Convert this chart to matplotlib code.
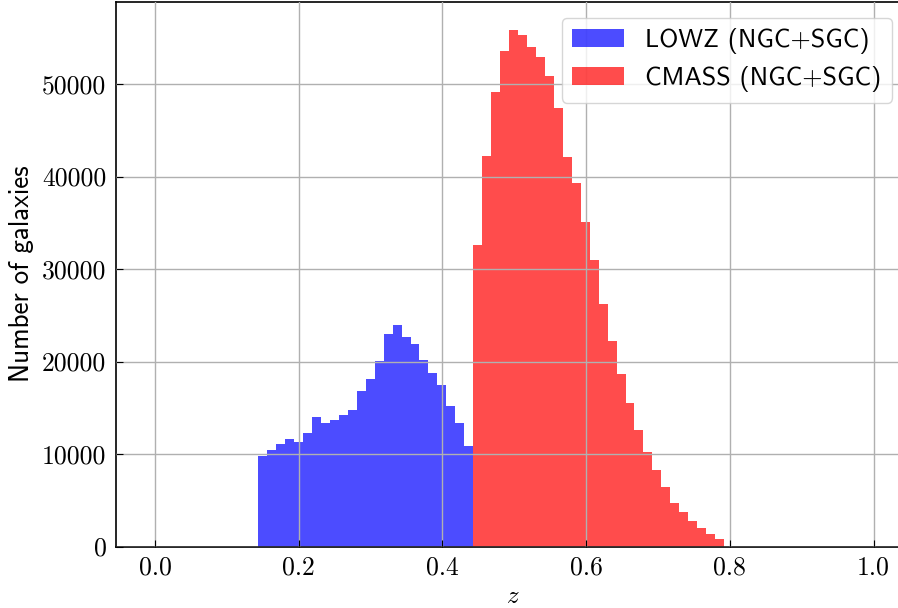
import numpy as np
import matplotlib
matplotlib.use("Agg")
import matplotlib.pyplot as plt

# ---- data ----
z_min, z_max, n_bins = 0.1437, 0.792, 52
lowz_counts = [9770, 10390, 11110, 11650, 11260, 12300, 14030, 13350, 13710, 14250,
               14750, 16850, 18150, 20020, 22980, 23990, 22620, 21940, 20130, 18760,
               17460, 15180, 13310, 10900]
cmass_counts = [32580, 42240, 49170, 53610, 55840, 55340, 53970, 52960, 50870, 47440,
                42130, 39320, 35060, 30950, 26260, 22190, 18690, 15550, 12630, 10250,
                8230, 6420, 4730, 3710, 2710, 2020, 1300, 760]
labels = ["LOWZ (NGC+SGC)", "CMASS (NGC+SGC)"]
x_ticks = [0.0, 0.2, 0.4, 0.6, 0.8, 1.0]
y_ticks = [0, 10000, 20000, 30000, 40000, 50000]

edges = np.linspace(z_min, z_max, n_bins + 1)
n_low = len(lowz_counts)
lowz_edges = edges[:n_low + 1]
cmass_edges = edges[n_low:]

plt.rcParams['mathtext.fontset'] = 'cm'
plt.rcParams['axes.unicode_minus'] = False

W, H = 898, 608
fig = plt.figure(figsize=(W / 100, H / 100), dpi=100)

# axes in pixel terms: left spine at 116, y=0 at 546.5, top at 1.7
x0_pix, x1_pix = 155.0, 873.5   # positions of z=0 and z=1
xlo, xhi = -0.054, 1.05
left_pix = x0_pix + xlo * (x1_pix - x0_pix)
right_pix = x0_pix + xhi * (x1_pix - x0_pix)
bottom_pix, top_pix = 546.5, 1.7
ax = fig.add_axes([left_pix / W, 1 - bottom_pix / H,
                   (right_pix - left_pix) / W, (bottom_pix - top_pix) / H])

ax.stairs(lowz_counts, lowz_edges, fill=True, color='blue', alpha=0.7,
          label=labels[0], linewidth=0)
ax.stairs(cmass_counts, cmass_edges, fill=True, color='red', alpha=0.7,
          label=labels[1], linewidth=0)

ax.set_xlim(xlo, xhi)
ax.set_ylim(0, 58900)
ax.set_xticks(x_ticks)
ax.set_yticks(y_ticks)
ax.set_xticklabels([f"{v:.1f}" for v in x_ticks], fontfamily='cmr10', fontsize=18.5)
ax.set_yticklabels([f"{v:d}" for v in y_ticks], fontfamily='cmr10', fontsize=18.5)
ax.tick_params(direction='in', length=5, pad=7)
ax.grid(True, color='#b0b0b0', linewidth=1.0)
ax.set_axisbelow(False)
for s in ax.spines.values():
    s.set_linewidth(1.2)

ax.set_xlabel('$z$', fontsize=18, labelpad=3)
ax.set_ylabel('Number of galaxies', fontfamily='cmss10', fontsize=19.5, labelpad=6)

leg = ax.legend(loc='upper right', bbox_to_anchor=(892 / W, 1 - 18 / H),
                bbox_transform=fig.transFigure, borderaxespad=0,
                prop={'family': 'cmss10', 'size': 18.8}, fancybox=True,
                labelspacing=0.45, framealpha=0.8, edgecolor='#cccccc')

fig.savefig('out.png', dpi=100)
